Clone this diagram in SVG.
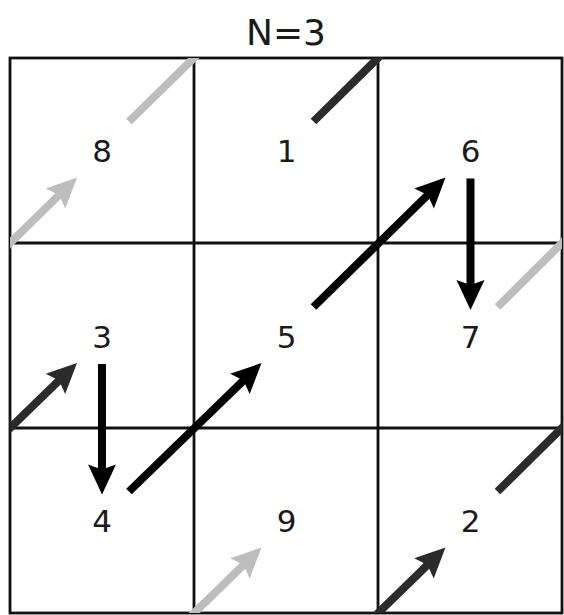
<svg xmlns="http://www.w3.org/2000/svg" width="564" height="615" viewBox="0 0 564 615">
<style>
  .grid { fill: none; stroke: #111; stroke-width: 2.8; }
  .num { font-family: "DejaVu Sans", sans-serif; font-size: 31px; fill: #1a1a1a; text-anchor: middle; }
  .title { font-family: "DejaVu Sans", sans-serif; font-size: 36px; fill: #1a1a1a; text-anchor: middle; }
  .shaft { fill: none; stroke-width: 8; stroke-linecap: butt; }
  .light { stroke: #bdbdbd; fill: #bdbdbd; }
  .dark { stroke: #2b2b2b; fill: #2b2b2b; }
  .black { stroke: #000; fill: #000; }
  use { stroke: none; }
</style>
<defs>
  <path id="head" d="M0,0 L-30,-14 L-25,0 L-30,14 Z"/>
  <clipPath id="gridclip"><rect x="10" y="58" width="552" height="555"/></clipPath>
</defs>
<rect width="564" height="615" fill="#fff"/>
<text class="title" x="286" y="45">N=3</text>
<g id="grid">
  <rect class="grid" x="10" y="58" width="552" height="555"/>
  <line class="grid" x1="194" y1="58" x2="194" y2="613"/>
  <line class="grid" x1="378" y1="58" x2="378" y2="613"/>
  <line class="grid" x1="10" y1="243" x2="562" y2="243"/>
  <line class="grid" x1="10" y1="428" x2="562" y2="428"/>
</g>
<g id="n8"><text class="num" x="102" y="161.5">8</text></g>
<g id="n1"><text class="num" x="286.5" y="161.5">1</text></g>
<g id="n6"><text class="num" x="470.5" y="161.5">6</text></g>
<g id="n3"><text class="num" x="102" y="348">3</text></g>
<g id="n5"><text class="num" x="286.5" y="348">5</text></g>
<g id="n7"><text class="num" x="470.5" y="348">7</text></g>
<g id="n4"><text class="num" x="102" y="531.5">4</text></g>
<g id="n9"><text class="num" x="286.5" y="531.5">9</text></g>
<g id="n2"><text class="num" x="470.5" y="531.5">2</text></g>
<g id="connectors" clip-path="url(#gridclip)">
  <g id="c1-2" class="dark">
    <line class="shaft" x1="313.5" y1="121.5" x2="384" y2="52"/>
    <line class="shaft" x1="372" y1="619" x2="427.6" y2="564.8"/>
    <use href="#head" transform="translate(445.5,547.5) rotate(-44.1)"/>
  </g>
  <g id="c2-3" class="dark">
    <line class="shaft" x1="497.5" y1="491.5" x2="568" y2="422"/>
    <line class="shaft" x1="4" y1="434" x2="59.1" y2="380.4"/>
    <use href="#head" transform="translate(77,363) rotate(-44.1)"/>
  </g>
  <g id="c3-4" class="black">
    <line class="shaft" x1="102" y1="364" x2="102" y2="470"/>
    <use href="#head" transform="translate(102,494.5) rotate(90)"/>
  </g>
  <g id="c4-5" class="black">
    <line class="shaft" x1="129" y1="491.5" x2="243.6" y2="380.4"/>
    <use href="#head" transform="translate(261.5,363) rotate(-44.1)"/>
  </g>
  <g id="c5-6" class="black">
    <line class="shaft" x1="313.5" y1="307" x2="427.7" y2="195"/>
    <use href="#head" transform="translate(445.5,177.5) rotate(-44.5)"/>
  </g>
  <g id="c6-7" class="black">
    <line class="shaft" x1="470.5" y1="178.5" x2="470.5" y2="286"/>
    <use href="#head" transform="translate(470.5,310) rotate(90)"/>
  </g>
  <g id="c7-8" class="light">
    <line class="shaft" x1="497.5" y1="307" x2="568" y2="237"/>
    <line class="shaft" x1="4" y1="249" x2="59.1" y2="195"/>
    <use href="#head" transform="translate(77,177.5) rotate(-44.3)"/>
  </g>
  <g id="c8-9" class="light">
    <line class="shaft" x1="129" y1="121.5" x2="200" y2="52"/>
    <line class="shaft" x1="188" y1="619" x2="243.6" y2="564.8"/>
    <use href="#head" transform="translate(261.5,547.5) rotate(-44.1)"/>
  </g>
</g>
</svg>
